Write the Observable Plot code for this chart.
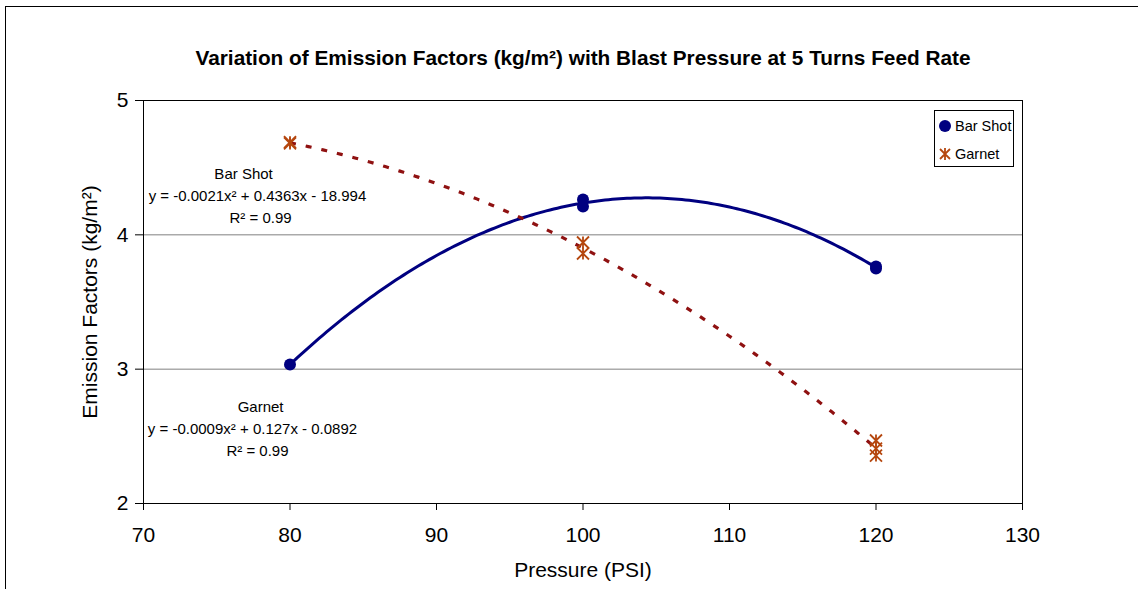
<!DOCTYPE html>
<html>
<head>
<meta charset="utf-8">
<script src="https://cdn.jsdelivr.net/npm/d3@7"></script>
<script src="https://cdn.jsdelivr.net/npm/@observablehq/plot@0.6"></script>
<style>
  html, body { margin: 0; padding: 0; background: #fff; overflow: hidden; }
  #wrap { position: relative; width: 1138px; height: 589px; }
  #outer { position: absolute; left: 5px; top: 6px; width: 1200px; height: 700px;
           border-left: 1px solid #000; border-top: 1px solid #000; box-sizing: border-box; pointer-events: none; }
  #legend { position: absolute; left: 934px; top: 110px; width: 80px; height: 57px; box-sizing: border-box;
            border: 1px solid #000; background: #fff; font-family: "Liberation Sans", Arial, sans-serif; font-size: 14.5px; }
  #legend .item { position: absolute; left: 3px; height: 20px; display: flex; align-items: center; }
  #legend svg { margin-right: 3px; }
</style>
</head>
<body>
<div id="wrap">
  <div id="chart"></div>
  <div id="outer"></div>
  <div id="legend"></div>
</div>
<script>
// ---- data ----
const barShotX = [80, 100, 100, 120, 120];
const barShotY = [3.035, 4.263, 4.21, 3.764, 3.75];
const garnetX = [80, 80, 100, 100, 120, 120, 120];
const garnetY = [4.69, 4.68, 3.943, 3.861, 2.469, 2.409, 2.357];
const xTicks = [70, 80, 90, 100, 110, 120, 130];
const yTicks = [2, 3, 4, 5];
const gridValues = [3, 4];
const titleText = "Variation of Emission Factors (kg/m²) with Blast Pressure at 5 Turns Feed Rate";
const xTitle = "Pressure (PSI)";
const yTitle = "Emission Factors (kg/m²)";
const seriesNames = ["Bar Shot", "Garnet"];
const annotations = [
  {x: 76.83, y: 4.449, text: "Bar Shot"},
  {x: 77.78, y: 4.285, text: "y = -0.0021x² + 0.4363x - 18.994"},
  {x: 77.99, y: 4.122, text: "R² = 0.99"},
  {x: 77.99, y: 2.715, text: "Garnet"},
  {x: 77.44, y: 2.551, text: "y = -0.0009x² + 0.127x - 0.0892"},
  {x: 77.78, y: 2.387, text: "R² = 0.99"}
];

const barShot = barShotX.map((x, i) => ({x, y: barShotY[i]}));
const garnet = garnetX.map((x, i) => ({x, y: garnetY[i]}));

// least-squares quadratic trendline (as the spreadsheet computes it)
function quadFit(pts) {
  const c = 100;
  let S = [0,0,0,0,0], T = [0,0,0];
  for (const p of pts) {
    const u = p.x - c;
    for (let k = 0; k < 5; k++) S[k] += Math.pow(u, k);
    for (let k = 0; k < 3; k++) T[k] += p.y * Math.pow(u, k);
  }
  const A = [[S[0],S[1],S[2],T[0]],[S[1],S[2],S[3],T[1]],[S[2],S[3],S[4],T[2]]];
  for (let i = 0; i < 3; i++) {
    let m = i; for (let r = i+1; r < 3; r++) if (Math.abs(A[r][i]) > Math.abs(A[m][i])) m = r;
    [A[i], A[m]] = [A[m], A[i]];
    for (let r = 0; r < 3; r++) if (r !== i) {
      const f = A[r][i] / A[i][i];
      for (let k = i; k < 4; k++) A[r][k] -= f * A[i][k];
    }
  }
  const b = A.map((row, i) => row[3] / row[i]);
  return x => b[0] + b[1]*(x-c) + b[2]*(x-c)*(x-c);
}
function curve(pts) {
  const f = quadFit(pts);
  const lo = d3.min(pts, d => d.x), hi = d3.max(pts, d => d.x);
  return d3.range(lo, hi + 1e-9, 0.25).map(x => ({x, y: f(x)}));
}

const navy = "#000080";
const garnetColor = "#b5470f";
const trendRed = "#8f1111";

const star = {
  draw(ctx, size) {
    const r = Math.sqrt(size / Math.PI);
    ctx.moveTo(-r, -r); ctx.lineTo(r, r);
    ctx.moveTo(r, -r); ctx.lineTo(-r, r);
    ctx.moveTo(0, -r); ctx.lineTo(0, r);
  }
};

const font = "'Liberation Sans', Arial, sans-serif";

const chart = Plot.plot({
  width: 1138,
  height: 589,
  marginLeft: 143,
  marginRight: 116,
  marginTop: 100,
  marginBottom: 86,
  style: {fontFamily: font, fontSize: "21px", color: "#000", background: "transparent", overflow: "visible"},
  x: {domain: [70, 130]},
  y: {domain: [2, 5]},
  marks: [
    Plot.ruleY(gridValues, {stroke: "#808080", strokeWidth: 1}),
    Plot.frame({stroke: "#000", strokeWidth: 1}),
    Plot.axisX({ticks: xTicks, tickFormat: d3.format("d"), tickSize: 7, tickPadding: 17, fontSize: 21, label: null, stroke: "#000"}),
    Plot.axisY({ticks: yTicks, tickFormat: d3.format("d"), tickSize: 8, tickPadding: 7, fontSize: 21, label: null, stroke: "#000"}),
    Plot.line(curve(barShot), {x: "x", y: "y", stroke: navy, strokeWidth: 3, curve: "linear"}),
    Plot.line(curve(garnet), {x: "x", y: "y", stroke: trendRed, strokeWidth: 3.2, strokeDasharray: "6,10", strokeLinecap: "butt"}),
    Plot.dot(barShot, {x: "x", y: "y", r: 6, fill: navy, stroke: "none"}),
    Plot.dot(garnet, {x: "x", y: "y", r: 6, symbol: star, stroke: garnetColor, strokeWidth: 1.8, fill: "none"}),
    Plot.text(annotations, {x: "x", y: "y", text: "text", fontSize: 15, fill: "#000", textAnchor: "middle", lineAnchor: "middle"}),
    Plot.text([titleText], {frameAnchor: "top", dy: -42, lineAnchor: "middle", fontSize: 20.8, fontWeight: "bold", fill: "#000"}),
    Plot.text([xTitle], {frameAnchor: "bottom", dy: 67, lineAnchor: "middle", fontSize: 21, fill: "#000"}),
    Plot.text([yTitle], {frameAnchor: "left", dx: -53, rotate: -90, lineAnchor: "middle", textAnchor: "middle", fontSize: 21, fill: "#000"})
  ]
});
document.getElementById("chart").appendChild(chart);

// legend
const legend = document.getElementById("legend");
const symbols = [
  `<svg width="14" height="14" viewBox="-7 -7 14 14"><circle r="6" fill="${navy}"/></svg>`,
  `<svg width="14" height="14" viewBox="-7 -7 14 14"><path d="M-5,-5L5,5M5,-5L-5,5M0,-6L0,6" stroke="${garnetColor}" stroke-width="1.8" fill="none"/></svg>`
];
seriesNames.forEach((name, i) => {
  const d = document.createElement("div");
  d.className = "item";
  d.style.top = (5 + i * 28) + "px";
  d.innerHTML = symbols[i] + `<span>${name}</span>`;
  legend.appendChild(d);
});
</script>
</body>
</html>
